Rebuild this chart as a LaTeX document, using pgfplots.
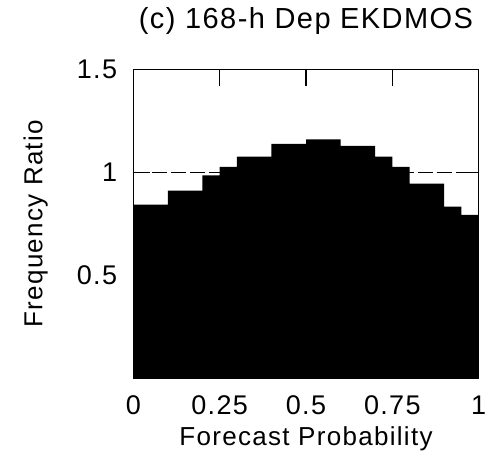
\documentclass[border=0pt]{standalone}
\usepackage{fontspec}
\setmainfont{Liberation Sans}[LetterSpace=5]
\usepackage{pgfplots}
\pgfplotsset{compat=1.18}
\begin{document}
\begin{tikzpicture}
\useasboundingbox (-133.3pt,-83.7pt) rectangle (353.7pt,378.3pt);
\begin{axis}[
  at={(0,0)}, anchor=south west,
  scale only axis, width=345.4pt, height=309pt,
  xmin=0, xmax=1, ymin=0, ymax=1.5,
  xtick={0,0.25,0.5,0.75,1}, xticklabels={0,0.25,0.5,0.75,1},
  ytick={0.5,1,1.5}, yticklabels={0.5,1,1.5},
  tick align=inside, xtick pos=both, ytick pos=both,
  major tick length=17pt,
  axis line style={line width=1.2pt},
  every tick/.style={line width=1.2pt, black},
  font=\fontsize{26pt}{31pt}\selectfont,
  /pgf/number format/assume math mode=true,
  xticklabel style={anchor=base, inner sep=0pt, yshift=-36.7pt, font=\fontsize{27pt}{31pt}\selectfont},
  yticklabel style={anchor=east, inner sep=0pt, xshift=-16pt, font=\fontsize{27pt}{31pt}\selectfont},
  title={(c) 168-h Dep EKDMOS},
  title style={at={(axis description cs:0.5,1)}, anchor=base, inner sep=0pt, yshift=34.3pt, font=\fontsize{29pt}{34pt}\selectfont},
  xlabel={Forecast Probability},
  xlabel style={at={(axis description cs:0.5,-0.2159)}, anchor=base, inner sep=0pt},
  ylabel={Frequency Ratio},
  ylabel style={at={(axis description cs:-0.2635,0.5)}, anchor=base, inner sep=0pt},
  axis on top,
]
\addplot[black, line width=1.2pt, dash pattern=on 15pt off 4pt] coordinates {(0,1) (1,1)};
\addplot[fill=black, draw=none, const plot mark left, forget plot] coordinates {
  (0,0.843) (0.1,0.911) (0.2,0.985) (0.25,1.026) (0.3,1.076) (0.4,1.138)
  (0.5,1.160) (0.6,1.128) (0.7,1.076) (0.75,1.026) (0.8,0.945) (0.9,0.833)
  (0.95,0.793) (1,0.793)} \closedcycle;
\end{axis}
\end{tikzpicture}
\end{document}
